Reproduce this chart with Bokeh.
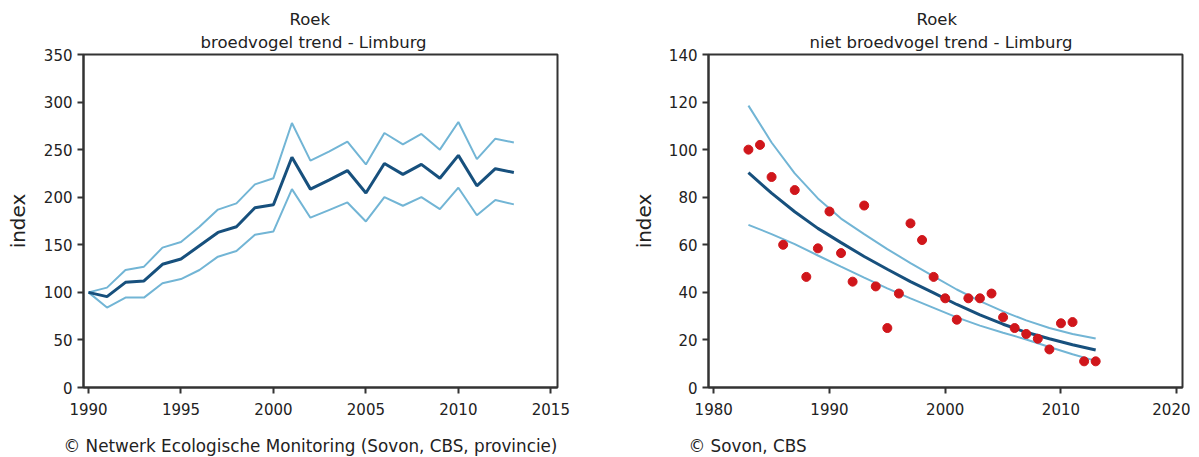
from bokeh.plotting import figure
from bokeh.models import Range1d, FixedTicker, Title
from bokeh.layouts import row, column
from bokeh.embed import file_html
from bokeh.resources import INLINE

FONT = "DejaVu Sans"

# ---------------- data: broedvogel trend (left) ----------------
br_years = list(range(1990, 2014))
br_index = [100, 95.5, 110.5, 112, 129.5, 135, 149, 163, 169, 189, 192, 242,
            208.5, 218, 228, 204.5, 235.5, 224, 234.5, 220, 244, 212, 230, 226]
br_upper = [100, 105, 123.5, 127, 147, 153, 169, 187, 193.5, 213.5, 220, 278,
            238.5, 248, 258.5, 234.5, 267.5, 255.5, 266.5, 250, 279, 240, 261.5, 257.5]
br_lower = [100, 84, 94.5, 94.5, 109.5, 114, 123.5, 137.5, 143.5, 160.5, 164, 208.5,
            178.5, 186.5, 194.5, 174.5, 200, 191, 200, 187.5, 210, 181, 197, 192.5]
br_xticks = [1990, 1995, 2000, 2005, 2010, 2015]
br_yticks = [0, 50, 100, 150, 200, 250, 300, 350]

# ---------------- data: niet broedvogel trend (right) ----------------
nb_years = list(range(1983, 2014))
nb_index = [100, 102, 88.5, 60, 83, 46.5, 58.5, 74, 56.5, 44.5, 76.5,
            42.5, 25, 39.5, 69, 62, 46.5, 37.5, 28.5, 37.5, 37.5,
            39.5, 29.5, 25, 22.5, 20.5, 16, 27, 27.5, 11, 11]
trend_years = [1983, 1985, 1987, 1989, 1991, 1993, 1995, 1997, 1999,
               2001, 2003, 2005, 2007, 2009, 2011, 2013]
trend_mid = [90.3, 81.7, 73.9, 66.9, 60.9, 55.1, 49.7, 44.5, 39.8,
             34.9, 30.5, 26.6, 23.2, 20.5, 18.0, 15.8]
trend_upper = [118.5, 103, 90, 79.5, 71, 64.5, 58.2, 52.3, 46.7,
               41.2, 36.3, 32, 28.2, 25, 22.5, 20.6]
trend_lower = [68.4, 64.5, 60.3, 55.5, 50.8, 46.2, 41.7, 37.5, 33.5,
               29.5, 26, 23, 20.2, 17, 14, 11.2]
nb_xticks = [1980, 1990, 2000, 2010, 2020]
nb_yticks = [0, 20, 40, 60, 80, 100, 120, 140]

footer_left = "\u00a9 Netwerk Ecologische Monitoring (Sovon, CBS, provincie)"
footer_right = "\u00a9 Sovon, CBS"

DARK = "#17507d"
LIGHT = "#72b5d5"
RED = "#d0161b"
AX = "#333333"
TXT = "#222222"

MAIN_H = 433
FOOT_H = 24


def make_fig(width, xr, yr, bl, br, bt, bb, xticks, yticks,
             line1, line2, off1, off2, ylab_standoff):
    p = figure(width=width, height=MAIN_H, x_range=Range1d(*xr), y_range=Range1d(*yr),
               output_backend="svg", toolbar_location=None,
               min_border_left=bl, min_border_right=br,
               min_border_top=bt, min_border_bottom=bb)
    p.title = None
    p.add_layout(Title(text=line2, align="left", offset=off2,
                       text_font=FONT, text_font_size="16.5px", text_font_style="normal",
                       text_color=TXT, standoff=5), "above")
    p.add_layout(Title(text=line1, align="left", offset=off1,
                       text_font=FONT, text_font_size="16.5px", text_font_style="normal",
                       text_color=TXT, standoff=0), "above")
    p.grid.visible = False
    p.outline_line_color = AX
    p.outline_line_width = 2
    p.xaxis.ticker = FixedTicker(ticks=xticks)
    p.yaxis.ticker = FixedTicker(ticks=yticks)
    for ax in (p.xaxis, p.yaxis):
        ax.axis_line_color = AX
        ax.axis_line_width = 2
        ax.major_tick_line_color = AX
        ax.major_tick_line_width = 2
        ax.major_tick_in = 0
        ax.major_tick_out = 6
        ax.minor_tick_line_color = None
        ax.major_label_text_font = FONT
        ax.major_label_text_font_size = "15px"
        ax.major_label_text_color = TXT
    p.xaxis.major_label_standoff = 9
    p.yaxis.major_label_standoff = 5
    p.yaxis.axis_label = "index"
    p.yaxis.axis_label_text_font = FONT
    p.yaxis.axis_label_text_font_size = "20px"
    p.yaxis.axis_label_text_font_style = "normal"
    p.yaxis.axis_label_text_color = TXT
    p.yaxis.axis_label_standoff = ylab_standoff
    return p


def make_footer(width, bl, br, text):
    f = figure(width=width, height=FOOT_H, x_range=Range1d(0, 1), y_range=Range1d(0, 1),
               output_backend="svg", toolbar_location=None,
               x_axis_type=None, y_axis_type=None,
               min_border_left=bl, min_border_right=br,
               min_border_top=0, min_border_bottom=0)
    f.title = None
    f.outline_line_color = None
    f.grid.visible = False
    f.add_layout(Title(text=text, align="left", offset=-20, text_font=FONT,
                       text_font_size="16.8px", text_font_style="normal",
                       text_color=TXT, standoff=0), "above")
    return f


p1 = make_fig(610, (1989.73, 2015.36), (0, 350), 83, 53, 54, MAIN_H - 387,
              br_xticks, br_yticks, "Roek", "broedvogel trend - Limburg", 206, 117, 11)
p1.line(br_years, br_upper, line_color=LIGHT, line_width=2)
p1.line(br_years, br_lower, line_color=LIGHT, line_width=2)
p1.line(br_years, br_index, line_color=DARK, line_width=3)

p2 = make_fig(580, (1979.55, 2020.5), (0, 140), 98, 8, 54, MAIN_H - 387,
              nb_xticks, nb_yticks, "Roek", "niet broedvogel trend - Limburg", 208, 101, 10)
p2.line(trend_years, trend_upper, line_color=LIGHT, line_width=2)
p2.line(trend_years, trend_lower, line_color=LIGHT, line_width=2)
p2.line(trend_years, trend_mid, line_color=DARK, line_width=3)
p2.scatter(nb_years, nb_index, size=9, fill_color=RED, line_color=RED)

f1 = make_footer(610, 83, 53, footer_left)
f2 = make_footer(580, 98, 8, footer_right)

layout = column(row(p1, p2), row(f1, f2))
open("out.html", "w").write(file_html(layout, INLINE))
